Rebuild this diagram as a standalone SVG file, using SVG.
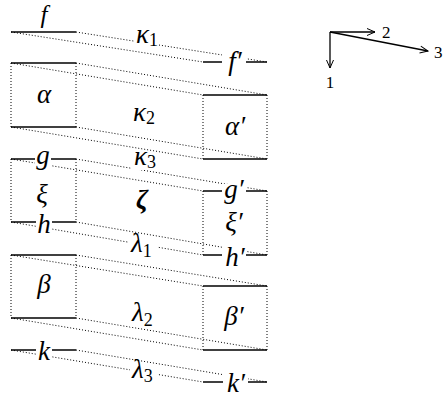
<svg xmlns="http://www.w3.org/2000/svg" width="443" height="402" viewBox="0 0 443 402">
<defs>
<style>
.sl{stroke:#000;stroke-width:1.3;fill:none}
.dl{stroke:#000;stroke-width:1;stroke-dasharray:1 2;fill:none}
.bg{fill:#fff;stroke:none}
</style>
<marker id="ah" markerWidth="12" markerHeight="10" viewBox="-9 -5 10 10" refX="0" refY="0" orient="auto" markerUnits="userSpaceOnUse">
<path d="M-8,-3.5 L0,0 L-8,3.5" fill="none" stroke="#000" stroke-width="1"/>
</marker>
</defs>
<rect width="443" height="402" fill="#fff"/>
<g id="connectors">
<line class="dl" x1="11" y1="32" x2="203" y2="62"/><line class="dl" x1="76" y1="32" x2="267" y2="62"/>
<line class="dl" x1="11" y1="63" x2="203" y2="95"/><line class="dl" x1="76" y1="63" x2="267" y2="95"/>
<line class="dl" x1="11" y1="127" x2="203" y2="159"/><line class="dl" x1="76" y1="127" x2="267" y2="159"/>
<line class="dl" x1="11" y1="159" x2="203" y2="191"/><line class="dl" x1="76" y1="159" x2="267" y2="191"/>
<line class="dl" x1="11" y1="222" x2="203" y2="255"/><line class="dl" x1="76" y1="222" x2="267" y2="255"/>
<line class="dl" x1="11" y1="255" x2="203" y2="286"/><line class="dl" x1="76" y1="255" x2="267" y2="286"/>
<line class="dl" x1="11" y1="318" x2="203" y2="350"/><line class="dl" x1="76" y1="318" x2="267" y2="350"/>
<line class="dl" x1="11" y1="350" x2="203" y2="382"/><line class="dl" x1="76" y1="350" x2="267" y2="382"/>
</g>
<g font-family="Liberation Serif, DejaVu Serif, serif" font-style="italic" font-size="27" fill="#000">
<g id="node-f"><line class="sl" x1="11" y1="32" x2="76" y2="32"/><text text-anchor="middle" x="44" y="23" font-size="25">f</text></g>
<g id="node-alpha"><line class="sl" x1="11" y1="63" x2="76" y2="63"/><line class="sl" x1="11" y1="127" x2="76" y2="127"/><line class="dl" x1="11" y1="63" x2="11" y2="127"/><line class="dl" x1="76" y1="63" x2="76" y2="127"/><text text-anchor="middle" x="44" y="103">α</text></g>
<g id="node-xi"><line class="dl" x1="11" y1="159" x2="11" y2="222"/><line class="dl" x1="76" y1="159" x2="76" y2="222"/><text text-anchor="middle" x="42" y="203">ξ</text></g>
<g id="node-g"><line class="sl" x1="11" y1="159" x2="76" y2="159"/><rect class="bg" x="35" y="151" width="16" height="18"/><text text-anchor="middle" x="43" y="164">g</text></g>
<g id="node-h"><line class="sl" x1="11" y1="222" x2="76" y2="222"/><rect class="bg" x="36" y="213" width="16" height="20"/><text text-anchor="middle" x="44" y="233">h</text></g>
<g id="node-beta"><line class="sl" x1="11" y1="255" x2="76" y2="255"/><line class="sl" x1="11" y1="318" x2="76" y2="318"/><line class="dl" x1="11" y1="255" x2="11" y2="318"/><line class="dl" x1="76" y1="255" x2="76" y2="318"/><text text-anchor="middle" x="44" y="293">β</text></g>
<g id="node-k"><line class="sl" x1="11" y1="350" x2="76" y2="350"/><rect class="bg" x="36" y="341" width="16" height="19"/><text text-anchor="middle" x="44" y="360">k</text></g>
<g id="node-f2"><line class="sl" x1="203" y1="62" x2="267" y2="62"/><rect class="bg" x="222" y="50" width="24" height="26"/><text text-anchor="middle" x="235" y="70">f′</text></g>
<g id="node-alpha2"><line class="sl" x1="203" y1="95" x2="267" y2="95"/><line class="sl" x1="203" y1="159" x2="267" y2="159"/><line class="dl" x1="203" y1="95" x2="203" y2="159"/><line class="dl" x1="267" y1="95" x2="267" y2="159"/><text text-anchor="middle" x="235" y="135">α′</text></g>
<g id="node-xi2"><line class="dl" x1="203" y1="191" x2="203" y2="255"/><line class="dl" x1="267" y1="191" x2="267" y2="255"/><text text-anchor="middle" x="234" y="231">ξ′</text></g>
<g id="node-g2"><line class="sl" x1="203" y1="191" x2="267" y2="191"/><rect class="bg" x="222" y="184" width="24" height="21"/><text text-anchor="middle" x="234" y="198">g′</text></g>
<g id="node-h2"><line class="sl" x1="203" y1="255" x2="267" y2="255"/><rect class="bg" x="222" y="245" width="24" height="21"/><text text-anchor="middle" x="235" y="266">h′</text></g>
<g id="node-beta2"><line class="sl" x1="203" y1="286" x2="267" y2="286"/><line class="sl" x1="203" y1="350" x2="267" y2="350"/><line class="dl" x1="203" y1="286" x2="203" y2="350"/><line class="dl" x1="267" y1="286" x2="267" y2="350"/><text text-anchor="middle" x="234" y="325">β′</text></g>
<g id="node-k2"><line class="sl" x1="203" y1="382" x2="267" y2="382"/><rect class="bg" x="223" y="372" width="25" height="21"/><text text-anchor="middle" x="236" y="392">k′</text></g>
<g id="labels">
<rect class="bg" x="134" y="33" width="25" height="15"/><text x="136" y="43">κ<tspan font-style="normal" font-size="18" dy="3">1</tspan></text>
<rect class="bg" x="131" y="109" width="27" height="17"/><text x="133" y="121">κ<tspan font-style="normal" font-size="18" dy="3">2</tspan></text>
<rect class="bg" x="132" y="154" width="28" height="16"/><text x="134" y="165">κ<tspan font-style="normal" font-size="18" dy="3">3</tspan></text>
<text text-anchor="middle" x="142" y="208" font-weight="bold">ζ</text>
<rect class="bg" x="129" y="237" width="28" height="22"/><text x="131" y="252">λ<tspan font-style="normal" font-size="18" dy="5">1</tspan></text>
<rect class="bg" x="130" y="305" width="28" height="22"/><text x="132" y="321">λ<tspan font-style="normal" font-size="18" dy="5">2</tspan></text>
<rect class="bg" x="130" y="364" width="28" height="20"/><text x="132" y="378">λ<tspan font-style="normal" font-size="18" dy="4">3</tspan></text>
</g>
</g>
<g id="axes" font-family="Liberation Serif, DejaVu Serif, serif" font-size="17">
<line class="sl" x1="330" y1="32" x2="330" y2="68" marker-end="url(#ah)"/>
<line class="sl" x1="330" y1="32" x2="375" y2="32" marker-end="url(#ah)"/>
<line class="sl" x1="330" y1="32" x2="428" y2="51" marker-end="url(#ah)"/>
<text x="330" y="88" text-anchor="middle">1</text>
<text x="382" y="38">2</text>
<text x="434" y="58">3</text>
</g>
</svg>
